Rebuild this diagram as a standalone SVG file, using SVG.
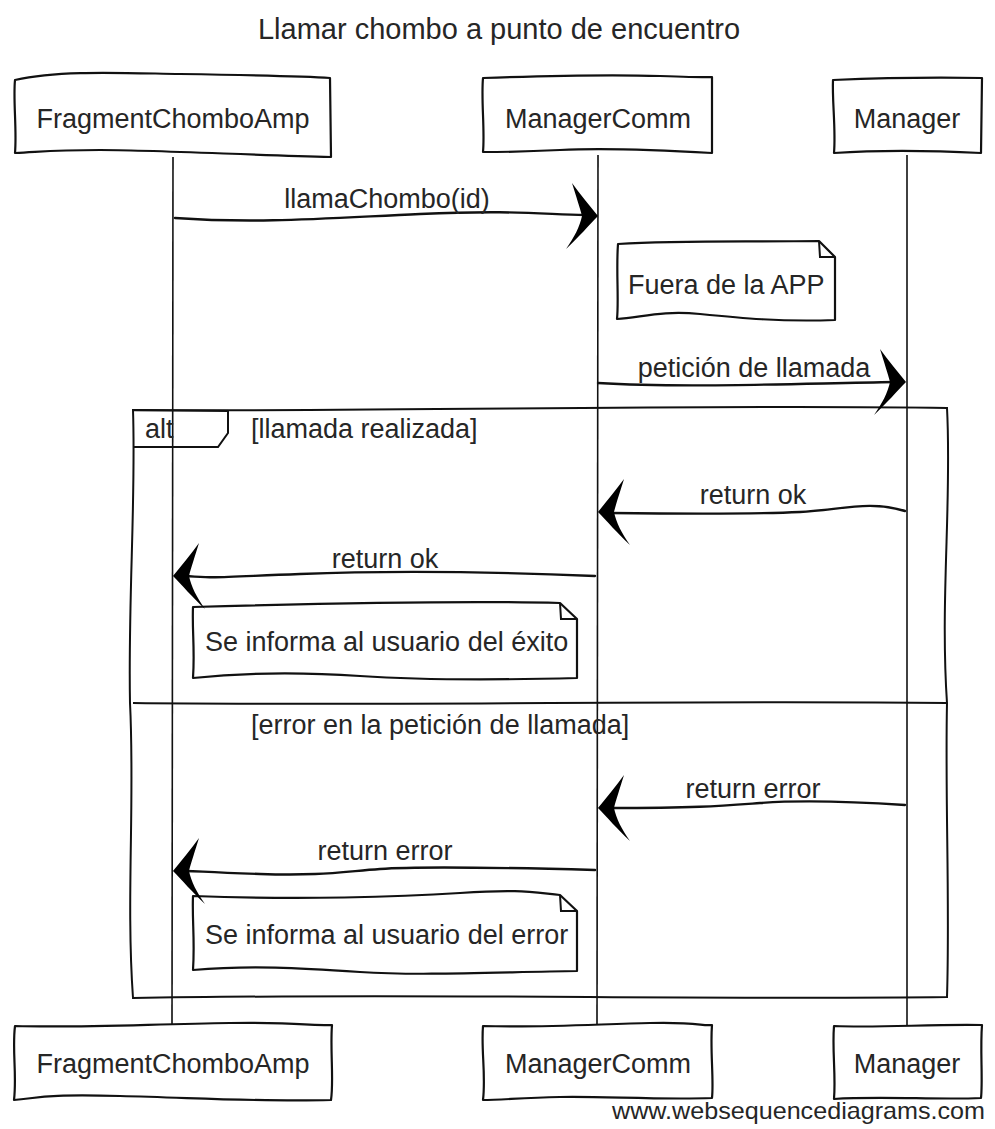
<svg xmlns="http://www.w3.org/2000/svg" width="995" height="1129" viewBox="0 0 995 1129">
<style>
text{font-family:"Liberation Sans",Arial,sans-serif;fill:#262626;}
.lbl{font-size:27px;}
.ttl{font-size:29px;}
.box{fill:#fff;stroke:#111;stroke-width:2.2;stroke-linejoin:round;}
.ln{fill:none;stroke:#111;stroke-width:2.4;stroke-linecap:round;}
.life{fill:none;stroke:#111;stroke-width:1.6;}
.frm{fill:none;stroke:#111;stroke-width:2;}
.ah{fill:#000;}
</style>
<defs>
<path id="ah" class="ah" d="M0,0 C-8,-10 -18,-22 -26,-33 C-22,-20 -18,-8 -16,0 C-18,10 -24,22 -32,33 C-20,22 -8,8 0,0 Z"/>
</defs>
<rect width="995" height="1129" fill="#fff"/>
<text x="499" y="39" text-anchor="middle" class="ttl">Llamar chombo a punto de encuentro</text>

<g id="lifelines">
<path class="life" d="M173,157 C175,400 171,700 172,1025"/>
<path class="life" d="M598,155 C596,400 599,700 597,1025"/>
<path class="life" d="M907,155 C908,400 905,700 907,1025"/>
</g>

<g id="alt-frame">
<path class="frm" d="M133,410 C400,412 700,404 947,408 C952,500 940,600 947,703 C945,800 950,900 947,997 C700,1000 400,993 133,998 C126,900 135,800 130,703 C128,600 136,500 133,410 Z"/>
<path class="frm" d="M133,410 L228,411 L228,433 L218,447 L133,447"/>
<path class="frm" d="M133,703 C400,706 700,700 947,703"/>
<text x="145" y="438" class="lbl">alt</text>
<text x="251" y="438" class="lbl">[llamada realizada]</text>
<text x="251" y="734" class="lbl">[error en la petición de llamada]</text>
</g>

<g id="p-fragment-top">
<path class="box" d="M15,80 C60,70 120,73 180,74 S300,76 330,78 L331,157 C250,155 150,150 100,150 S40,152 15,153 C17,130 13,100 15,80 Z"/>
<text x="173" y="128" text-anchor="middle" class="lbl">FragmentChomboAmp</text>
</g>
<g id="p-managercomm-top">
<path class="box" d="M483,78 C540,76 600,74 660,76 S700,77 712,77 L712,153 C660,150 600,148 560,150 S500,152 483,152 C485,130 481,100 483,78 Z"/>
<text x="598" y="128" text-anchor="middle" class="lbl">ManagerComm</text>
</g>
<g id="p-manager-top">
<path class="box" d="M833,80 C880,78 930,77 982,78 L981,153 C940,151 880,150 834,153 C836,130 832,100 833,80 Z"/>
<text x="907" y="128" text-anchor="middle" class="lbl">Manager</text>
</g>

<g id="p-fragment-bottom">
<path class="box" d="M15,1026 C80,1028 150,1024 230,1023 S300,1026 332,1025 C330,1050 334,1080 331,1100 C260,1102 200,1098 120,1096 S40,1098 14,1100 C17,1075 12,1050 15,1026 Z"/>
<text x="173" y="1073" text-anchor="middle" class="lbl">FragmentChomboAmp</text>
</g>
<g id="p-managercomm-bottom">
<path class="box" d="M483,1026 C540,1028 600,1024 650,1023 S700,1026 712,1025 C710,1050 714,1080 712,1098 C660,1100 600,1096 560,1097 S500,1100 483,1100 C486,1075 481,1050 483,1026 Z"/>
<text x="598" y="1073" text-anchor="middle" class="lbl">ManagerComm</text>
</g>
<g id="p-manager-bottom">
<path class="box" d="M834,1026 C880,1028 930,1024 982,1025 C980,1050 983,1080 981,1098 C940,1100 880,1096 834,1099 C836,1075 832,1050 834,1026 Z"/>
<text x="907" y="1073" text-anchor="middle" class="lbl">Manager</text>
</g>

<g id="n-fuera">
<path class="box" d="M618,244 C680,240 740,242 819,241 L835,257 L835,320 C780,322 740,318 700,314 S640,318 617,319 C619,300 616,270 618,244 Z"/>
<path class="frm" d="M819,241 L820,257 L835,257"/>
<text x="628" y="294" class="lbl">Fuera de la APP</text>
</g>
<g id="n-exito">
<path class="box" d="M193,607 C300,604 450,600 560,603 L577,619 L577,678 C500,680 420,680 360,676 S250,672 193,678 C195,650 192,630 193,607 Z"/>
<path class="frm" d="M560,603 L561,619 L577,619"/>
<text x="205" y="651" class="lbl">Se informa al usuario del éxito</text>
</g>
<g id="n-error">
<path class="box" d="M193,896 C300,900 400,897 460,893 S530,892 560,895 L577,911 L577,971 C500,972 420,976 360,972 S250,965 193,970 C195,940 192,920 193,896 Z"/>
<path class="frm" d="M560,895 L561,911 L577,911"/>
<text x="205" y="944" class="lbl">Se informa al usuario del error</text>
</g>

<g id="connectors">
<path class="ln" d="M175,218 C260,224 330,218 420,214 S540,214 585,215"/>
<use href="#ah" transform="translate(598,216)"/>
<text x="387" y="208" text-anchor="middle" class="lbl">llamaChombo(id)</text>

<path class="ln" d="M598,383 C680,388 780,384 895,382"/>
<use href="#ah" transform="translate(906,382)"/>
<text x="754" y="377" text-anchor="middle" class="lbl">petición de llamada</text>

<path class="ln" d="M905,511 C870,500 840,510 800,512 S700,514 610,513"/>
<use href="#ah" transform="translate(598,512) scale(-1,1)"/>
<text x="753" y="504" text-anchor="middle" class="lbl">return ok</text>

<path class="ln" d="M595,576 C500,572 400,570 300,574 S220,578 185,576"/>
<use href="#ah" transform="translate(173,576) scale(-1,1)"/>
<text x="385" y="568" text-anchor="middle" class="lbl">return ok</text>

<path class="ln" d="M905,805 C860,802 800,800 760,803 S700,808 610,808"/>
<use href="#ah" transform="translate(598,808) scale(-1,1)"/>
<text x="753" y="798" text-anchor="middle" class="lbl">return error</text>

<path class="ln" d="M595,870 C520,868 420,866 380,869 S320,876 260,874 S200,871 185,871"/>
<use href="#ah" transform="translate(173,871) scale(-1,1)"/>
<text x="385" y="860" text-anchor="middle" class="lbl">return error</text>
</g>

<text x="985" y="1119" text-anchor="end" font-size="24" textLength="373" lengthAdjust="spacingAndGlyphs">www.websequencediagrams.com</text>
</svg>
